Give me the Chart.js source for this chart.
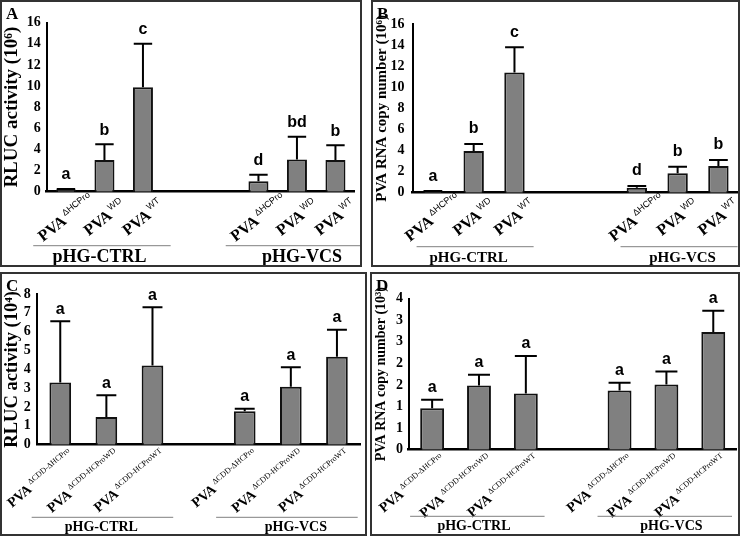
<!DOCTYPE html>
<html>
<head>
<meta charset="utf-8">
<script src="https://cdn.jsdelivr.net/npm/chart.js@4"></script>
<style>
    body { margin: 0; background: #fff; }
    canvas { position: absolute; }
</style>
</head>
<body>
<canvas id="chartA" width="362" height="267" style="left:0;top:0"></canvas>
<canvas id="chartB" width="369" height="267" style="left:371px;top:0"></canvas>
<canvas id="chartC" width="367" height="264" style="left:0;top:272px"></canvas>
<canvas id="chartD" width="370" height="264" style="left:370px;top:272px"></canvas>
<script>
// categories (empty strings are the gaps between the two groups)
const groupNames = ["pHG-CTRL", "pHG-VCS"];
const labelsAB = ["ΔHCPro", "WD", "WT", "", "", "ΔHCPro", "WD", "WT"];
const labelsCD = ["ΔCDD-ΔHCPro", "ΔCDD-HCProWD", "ΔCDD-HCProWT", "", "ΔCDD-ΔHCPro", "ΔCDD-HCProWD", "ΔCDD-HCProWT"];

// A: RLUC activity (10^6)
const meanA = [0.2, 3.0, 9.9, null, null, 1.0, 3.05, 3.0];
const errA = [0.05, 1.5, 4.1, null, null, 0.6, 2.15, 1.4];
const lettersA = ["a", "b", "c", "", "", "d", "bd", "b"];

// B: PVA RNA copy number (10^6)
const meanB = [0.1, 3.95, 11.4, null, null, 0.47, 1.84, 2.53];
const errB = [0.05, 0.67, 2.4, null, null, 0.16, 0.63, 0.57];
const lettersB = ["a", "b", "c", "", "", "d", "b", "b"];

// C: RLUC activity (10^4)
const meanC = [3.3, 1.47, 4.2, null, 1.77, 3.08, 4.67];
const errC = [3.25, 1.15, 3.1, null, 0.14, 1.03, 1.43];
const lettersC = ["a", "a", "a", "", "a", "a", "a"];

// D: PVA RNA copy number (10^3)
const meanD = [0.96, 1.49, 1.30, null, 1.37, 1.51, 2.73];
const errD = [0.2, 0.25, 0.87, null, 0.18, 0.3, 0.49];
const lettersD = ["a", "a", "a", "", "a", "a", "a"];
const yTicksD = ["0", "1", "1", "2", "2", "3", "3", "4"];

const serif = '"Liberation Serif", "Times New Roman", serif';
const sans = '"Liberation Sans", Arial, sans-serif';

const panels = {
    chartA: {
        letter: "A", labels: labelsAB, means: meanA, errs: errA, letters: lettersA,
        area: { l: 46.7, r: 354.7, t: 22.7, b: 191.7 }, yMax: 16, step: 2,
        title: "RLUC activity (10⁶)", titleSize: 19, titlePad: 0.5, tickPad: 6, barPct: 0.52,
        letterGap: 14, mode: "center", angle: 38, labelDy: 26, pvaSize: 16, supFont: "9px " + sans,
        lineDy: 54, textDy: 66, groupSize: 18, lineL: -0.85, lineR: 0.72
    },
    chartB: {
        letter: "B", labels: labelsAB, means: meanB, errs: errB, letters: lettersB,
        area: { l: 41.5, r: 367.8, t: 24, b: 192.7 }, yMax: 16, step: 2,
        title: "PVA RNA copy number (10⁶)", titleSize: 15, titlePad: 1.7, tickPad: 8, barPct: 0.5,
        letterGap: 15, mode: "center", angle: 38, labelDy: 25, pvaSize: 16, supFont: "9px " + sans,
        lineDy: 54, textDy: 65, groupSize: 15, lineL: -0.4, lineR: 0.47
    },
    chartC: {
        letter: "C", labels: labelsCD, means: meanC, errs: errC, letters: lettersC,
        area: { l: 37.2, r: 360, t: 22, b: 172.7 }, yMax: 8, step: 1,
        title: "RLUC activity (10⁴)", titleSize: 18.5, titlePad: 1, tickPad: 6.5, barPct: 0.47,
        letterGap: 12, mode: "end", angle: 40, labelDy: 2, pvaSize: 14, supFont: "8px " + serif,
        lineDy: 72.6, textDy: 82.6, groupSize: 14, lineL: -0.62, lineR: 0.45
    },
    chartD: {
        letter: "D", labels: labelsCD, means: meanD, errs: errD, letters: lettersD,
        area: { l: 38.7, r: 366.7, t: 26.7, b: 177.7 }, yMax: 3.5, step: 0.5, tickLabels: yTicksD,
        title: "PVA RNA copy number (10³)", titleSize: 14, titlePad: 2.6, tickPad: 5.7, barPct: 0.51,
        letterGap: 12, mode: "end", angle: 40, labelDy: 2, pvaSize: 14, supFont: "8px " + serif,
        lineDy: 66.6, textDy: 77, groupSize: 14, lineL: -0.47, lineR: 0.4
    }
};

// error bars, letters, category labels, group lines and frame
const decor = {
    id: "decor",
    afterDatasetsDraw(chart) {
        const p = panels[chart.canvas.id];
        const ctx = chart.ctx;
        const bars = chart.getDatasetMeta(0).data;
        ctx.save();
        p.means.forEach((m, i) => {
            if (m === null) return;
            const bar = bars[i];
            const top = chart.scales.y.getPixelForValue(m + p.errs[i]);
            const half = bar.width * 0.46;
            ctx.strokeStyle = "#000";
            ctx.lineWidth = 2;
            ctx.beginPath();
            ctx.moveTo(bar.x, bar.y);
            ctx.lineTo(bar.x, top);
            ctx.moveTo(bar.x - half, top);
            ctx.lineTo(bar.x + half, top);
            ctx.stroke();
            ctx.fillStyle = "#000";
            ctx.font = "bold 16px " + sans;
            ctx.textAlign = "center";
            ctx.textBaseline = "middle";
            ctx.fillText(p.letters[i], bar.x, top - p.letterGap);
        });
        ctx.restore();
    },
    afterDraw(chart) {
        const p = panels[chart.canvas.id];
        const ctx = chart.ctx;
        const xs = chart.scales.x;
        const base = chart.chartArea.bottom;
        ctx.save();
        ctx.fillStyle = "#000";

        // rotated category labels
        p.labels.forEach((sup, i) => {
            if (!sup) return;
            const x = xs.getPixelForValue(i);
            ctx.save();
            ctx.font = "bold " + p.pvaSize + "px " + serif;
            const w1 = ctx.measureText("PVA").width;
            ctx.font = p.supFont;
            const w2 = ctx.measureText(sup).width;
            let start, pvaBase, supBase;
            if (p.mode === "center") {
                ctx.translate(x, base + p.labelDy);
                start = -(w1 + w2 + 2) / 2;
                pvaBase = 5;
                supBase = -2;
            } else {
                ctx.translate(x + 6, base + p.labelDy);
                start = -(w1 + w2 + 2);
                supBase = 6;
                pvaBase = 12;
            }
            ctx.rotate(-p.angle * Math.PI / 180);
            ctx.textAlign = "left";
            ctx.textBaseline = "alphabetic";
            ctx.font = "bold " + p.pvaSize + "px " + serif;
            ctx.fillText("PVA", start, pvaBase);
            ctx.font = p.supFont;
            ctx.fillText(sup, start + w1 + 2, supBase);
            ctx.restore();
        });

        // group lines and names
        const step = xs.getPixelForValue(1) - xs.getPixelForValue(0);
        const runs = [];
        p.labels.forEach((l, i) => {
            if (!l) return;
            const last = runs[runs.length - 1];
            if (last && last[1] === i - 1) last[1] = i;
            else runs.push([i, i]);
        });
        runs.forEach((r, g) => {
            const x0 = Math.max(3, xs.getPixelForValue(r[0]) + p.lineL * step);
            const x1 = Math.min(chart.width - 2, xs.getPixelForValue(r[1]) + p.lineR * step);
            ctx.strokeStyle = "#808080";
            ctx.lineWidth = 1;
            ctx.beginPath();
            ctx.moveTo(x0, base + p.lineDy);
            ctx.lineTo(x1, base + p.lineDy);
            ctx.stroke();
            const cx = (xs.getPixelForValue(r[0]) + xs.getPixelForValue(r[1])) / 2 + (g === 0 ? -5 : 5);
            ctx.font = "bold " + p.groupSize + "px " + serif;
            ctx.textAlign = "center";
            ctx.textBaseline = "middle";
            ctx.fillText(groupNames[g], cx, base + p.textDy);
        });

        // panel letter and frame
        ctx.font = "bold 17px " + serif;
        ctx.textAlign = "left";
        ctx.textBaseline = "alphabetic";
        ctx.fillText(p.letter, 6, 19);
        ctx.strokeStyle = "#333";
        ctx.lineWidth = 2;
        ctx.strokeRect(1, 1, chart.width - 2, chart.height - 2);
        ctx.restore();
    }
};

function makeChart(id) {
    const p = panels[id];
    const canvas = document.getElementById(id);
    new Chart(canvas, {
        type: "bar",
        data: {
            labels: p.labels,
            datasets: [{
                data: p.means,
                backgroundColor: "#808080",
                borderColor: "#111",
                borderWidth: 2,
                barPercentage: p.barPct,
                categoryPercentage: 1
            }]
        },
        options: {
            responsive: false,
            animation: false,
            layout: { padding: { left: 0, top: p.area.t, right: canvas.width - p.area.r, bottom: 0 } },
            plugins: { legend: { display: false }, tooltip: { enabled: false } },
            scales: {
                x: {
                    grid: { display: false, drawTicks: false },
                    border: { display: true, color: "#000", width: 2.5 },
                    ticks: { display: false },
                    afterFit: s => { s.height = canvas.height - p.area.b; }
                },
                y: {
                    min: 0,
                    max: p.yMax,
                    grid: { display: false, drawTicks: false },
                    border: { display: true, color: "#000", width: 2 },
                    ticks: {
                        stepSize: p.step,
                        autoSkip: false,
                        padding: p.tickPad,
                        color: "#000",
                        font: { family: serif, size: 14, weight: "bold" },
                        callback: (v, i) => p.tickLabels ? p.tickLabels[i] : v
                    },
                    title: {
                        display: true,
                        text: p.title,
                        color: "#000",
                        padding: { top: p.titlePad, bottom: 0 },
                        font: { family: serif, size: p.titleSize, weight: "bold" }
                    },
                    afterFit: s => { s.width = p.area.l; }
                }
            }
        },
        plugins: [decor]
    });
}

document.addEventListener("DOMContentLoaded", () => {
    ["chartA", "chartB", "chartC", "chartD"].forEach(makeChart);
});
</script>
</body>
</html>
